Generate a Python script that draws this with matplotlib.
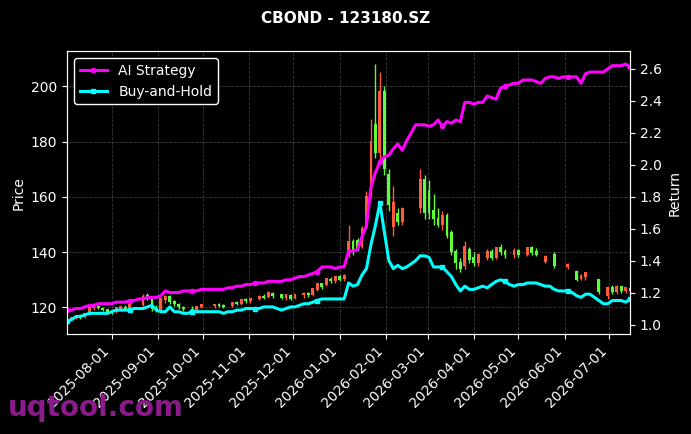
import numpy as np
import pandas as pd
import matplotlib
matplotlib.use("Agg")
import matplotlib.pyplot as plt
import matplotlib.dates as mdates

# Dates (one point every 3 calendar days)
dates = pd.date_range("2025-07-02", periods=127, freq="3D")

# Strategy returns (right axis)
ai_strategy = [
    1.09, 1.09, 1.10, 1.10, 1.11, 1.12, 1.12, 1.13, 1.13, 1.13,
    1.13, 1.14, 1.14, 1.14, 1.15, 1.15, 1.16, 1.16, 1.17, 1.17,
    1.17, 1.18, 1.21, 1.20, 1.20, 1.20, 1.21, 1.21, 1.21, 1.21,
    1.22, 1.22, 1.22, 1.22, 1.22, 1.22, 1.23, 1.23, 1.24, 1.24,
    1.25, 1.25, 1.26, 1.26, 1.26, 1.27, 1.27, 1.27, 1.27, 1.28,
    1.28, 1.29, 1.30, 1.30, 1.31, 1.32, 1.33, 1.36, 1.36, 1.36,
    1.35, 1.36, 1.36, 1.46, 1.46, 1.47, 1.55, 1.62, 1.86, 1.95,
    2.02, 2.05, 2.06, 2.10, 2.13, 2.09, 2.15, 2.20, 2.25, 2.25,
    2.25, 2.24, 2.25, 2.28, 2.24, 2.27, 2.26, 2.28, 2.27, 2.39,
    2.39, 2.38, 2.39, 2.39, 2.43, 2.42, 2.41, 2.48, 2.49, 2.50,
    2.51, 2.51, 2.53, 2.53, 2.53, 2.52, 2.51, 2.54, 2.55, 2.55,
    2.54, 2.55, 2.55, 2.55, 2.55, 2.51, 2.57, 2.58, 2.58, 2.58,
    2.58, 2.60, 2.62, 2.62, 2.62, 2.63, 2.61,
]
buy_and_hold = [
    1.02, 1.03, 1.05, 1.05, 1.06, 1.07, 1.07, 1.07, 1.07, 1.07,
    1.08, 1.09, 1.09, 1.09, 1.09, 1.10, 1.10, 1.10, 1.11, 1.12,
    1.09, 1.08, 1.08, 1.11, 1.08, 1.08, 1.07, 1.07, 1.08, 1.08,
    1.08, 1.08, 1.08, 1.08, 1.08, 1.07, 1.08, 1.08, 1.09, 1.09,
    1.10, 1.10, 1.10, 1.10, 1.11, 1.11, 1.11, 1.10, 1.09, 1.10,
    1.11, 1.11, 1.12, 1.13, 1.13, 1.14, 1.15, 1.16, 1.16, 1.16,
    1.16, 1.16, 1.16, 1.26, 1.24, 1.25, 1.31, 1.35, 1.50, 1.62,
    1.76, 1.58, 1.40, 1.35, 1.37, 1.35, 1.36, 1.38, 1.40, 1.43,
    1.43, 1.42, 1.36, 1.36, 1.36, 1.33, 1.30, 1.25, 1.21, 1.24,
    1.22, 1.22, 1.23, 1.24, 1.23, 1.25, 1.27, 1.28, 1.27, 1.25,
    1.24, 1.25, 1.25, 1.26, 1.26, 1.26, 1.25, 1.24, 1.24, 1.22,
    1.21, 1.21, 1.21, 1.20, 1.18, 1.17, 1.19, 1.19, 1.17, 1.15,
    1.13, 1.13, 1.15, 1.15, 1.15, 1.14, 1.16,
]

# Candles (left axis), None = no trading data
N = None
opens = [
    N, 115.4, 116.2, 116.8, 116.6, 117.8, 119.8, 120.4, 119.6, 119.0,
    118.6, 118.4, 119.6, 120.0, 119.8, N, N, 121.0, 124.2, 122.6,
    119.6, 119.0, 122.8, 124.0, 122.0, 121.0, 120.0, N, 119.0, 118.8,
    120.2, N, N, 120.4, 121.0, 120.6, N, 120.4, 121.6, 121.4,
    122.6, 122.4, N, 123.2, 124.0, 123.8, 125.0, N, 124.6, 123.6,
    124.2, 123.4, N, 124.4, 125.0, 124.6, 126.4, 128.4, 128.0, 130.0,
    129.6, 131.0, 130.2, 139.0, 143.6, 144.0, 142.0, 149.0, 162.0, 186.0,
    176.0, 198.0, 168.0, 149.0, 154.0, 151.0, N, N, N, 156.0,
    166.0, 162.0, 155.0, 152.0, 150.0, 153.0, 147.0, 140.0, 136.0, 135.0,
    141.0, 138.0, 136.0, N, 138.0, 140.0, 138.0, 141.4, 140.0, N,
    139.0, 140.4, N, 139.0, 141.6, 140.0, N, 136.4, N, 139.0,
    N, N, 134.6, N, 133.0, 130.4, 131.0, N, N, 130.0,
    N, 124.0, 127.0, 125.6, 127.4, 125.8, 126.6,
]
highs = [
    N, 116.6, 117.2, 117.6, 118.0, 120.2, 121.0, 120.8, 120.2, 119.6,
    119.4, 120.2, 120.6, 121.0, 121.4, N, N, 125.0, 125.4, 123.2,
    121.0, 123.6, 124.6, 124.4, 122.6, 121.6, 120.6, N, 120.4, 120.6,
    121.4, N, N, 121.4, 121.6, 121.2, N, 122.0, 122.4, 123.0,
    123.4, 123.6, N, 124.4, 125.0, 125.8, 125.6, N, 125.0, 124.8,
    124.8, 125.0, N, 125.6, 125.6, 127.0, 129.0, 129.0, 130.6, 131.2,
    131.4, 131.6, 132.0, 150.0, 144.8, 145.0, 149.4, 162.0, 188.0, 208.0,
    205.0, 200.0, 170.0, 164.0, 156.0, 156.4, N, N, N, 170.0,
    168.0, 166.0, 161.0, 156.0, 155.0, 154.0, 148.0, 141.0, 138.0, 144.0,
    142.0, 140.0, 139.6, N, 141.0, 141.0, 142.0, 143.0, 141.0, N,
    141.4, 141.0, N, 142.0, 142.4, 141.6, N, 139.0, N, 140.0,
    N, N, 136.0, N, 133.4, 132.0, 133.0, N, N, 130.4,
    N, 127.6, 128.0, 128.0, 127.8, 127.4, 127.0,
]
lows = [
    N, 115.0, 115.8, 116.0, 116.2, 117.4, 119.2, 119.4, 118.6, 117.8,
    117.6, 118.0, 119.0, 119.2, 119.4, N, N, 120.6, 122.6, 118.6,
    118.2, 118.6, 121.6, 121.4, 120.6, 119.6, 118.8, N, 118.0, 118.4,
    119.8, N, N, 119.8, 120.0, 119.8, N, 120.0, 120.8, 121.0,
    121.8, 121.8, N, 122.6, 123.0, 123.4, 123.6, N, 123.0, 122.8,
    122.8, 123.0, N, 123.6, 123.8, 124.0, 125.8, 126.8, 127.6, 129.0,
    129.0, 129.6, 129.4, 138.4, 139.0, 140.4, 141.4, 148.4, 160.0, 174.0,
    172.0, 168.0, 155.0, 146.0, 150.0, 150.0, N, N, N, 154.0,
    152.0, 152.0, 150.0, 149.0, 148.0, 145.0, 139.0, 134.0, 133.0, 134.0,
    136.0, 135.0, 135.0, N, 137.0, 137.0, 137.6, 139.0, 138.0, N,
    138.0, 138.4, N, 138.6, 139.0, 138.6, N, 136.0, N, 134.4,
    N, N, 134.0, N, 129.6, 130.0, 130.0, N, N, 125.0,
    N, 123.0, 125.0, 125.0, 125.4, 125.4, 125.2,
]
closes = [
    N, 116.2, 116.8, 116.4, 117.6, 119.8, 120.4, 119.8, 119.0, 118.4,
    118.0, 119.8, 120.2, 119.6, 121.0, N, N, 124.0, 123.0, 119.4,
    118.8, 123.0, 124.0, 122.0, 121.2, 120.0, 119.4, N, 118.6, 120.2,
    121.0, N, N, 121.0, 120.4, 120.0, N, 121.6, 121.2, 122.6,
    122.2, 123.2, N, 124.0, 123.6, 125.2, 124.0, N, 123.4, 124.4,
    123.2, 124.6, N, 125.0, 124.4, 126.6, 128.6, 127.4, 130.2, 129.6,
    131.0, 130.0, 131.4, 143.6, 140.0, 141.0, 148.6, 160.0, 180.0, 176.0,
    198.0, 170.0, 157.0, 158.0, 151.0, 155.6, N, N, N, 166.0,
    154.0, 154.0, 152.0, 150.0, 153.0, 146.0, 140.0, 136.0, 134.0, 142.0,
    137.0, 136.0, 139.0, N, 140.0, 138.0, 141.4, 140.0, 139.0, N,
    140.6, 139.0, N, 141.6, 139.6, 139.0, N, 138.4, N, 135.0,
    N, N, 135.6, N, 130.0, 131.6, 132.6, N, N, 125.6,
    N, 127.0, 125.6, 127.4, 126.0, 127.0, 125.8,
]

plt.style.use("dark_background")
fig = plt.figure(figsize=(6.91, 4.34), dpi=100)
ax = fig.add_axes([0.097, 0.230, 0.815, 0.652])

# red = up, green = down (China convention)
up_color = "#ff5a3c"
down_color = "#5dff3a"

x = mdates.date2num(dates)
o = np.array(opens, dtype=float)
h = np.array(highs, dtype=float)
l = np.array(lows, dtype=float)
c = np.array(closes, dtype=float)
ok = ~np.isnan(o)
colors = np.where(c >= o, up_color, down_color)

ax.vlines(x[ok], l[ok], h[ok], colors=colors[ok], linewidth=1.0)
ax.bar(x[ok], np.abs(c[ok] - o[ok]) + 0.3, bottom=np.minimum(o[ok], c[ok]),
       width=1.9, color=colors[ok], linewidth=0)

ax.set_ylabel("Price", fontsize=10)
ax.grid(True, linestyle="--", color="gray", alpha=0.45, linewidth=0.6)
ax.xaxis.set_major_locator(mdates.MonthLocator())
ax.xaxis.set_major_formatter(mdates.DateFormatter("%Y-%m-%d"))
plt.setp(ax.get_xticklabels(), rotation=45, ha="right")
ax.set_xlim(x[0], x[-1])

ax2 = ax.twinx()
ax2.plot(x, ai_strategy, color="#ff00ff", linewidth=2.2, marker="o",
         markersize=3, markevery=14, label="AI Strategy")
ax2.plot(x, buy_and_hold, color="#00ffff", linewidth=2.2, marker="s",
         markersize=3, markevery=14, label="Buy-and-Hold")
ax2.set_ylabel("Return", fontsize=10)
ax2.set_xlim(x[0], x[-1])

for a in (ax, ax2):
    for s in a.spines.values():
        s.set_color("white")

ax2.legend(loc="upper left", facecolor="black", edgecolor="white",
           framealpha=1, fontsize=10)

fig.text(0.5, 0.958, "CBOND - 123180.SZ", ha="center", va="center",
         fontsize=11, fontweight="bold", color="white")
fig.text(0.012, 0.06, "uqtool.com", ha="left", va="center",
         fontsize=20, fontweight="bold", color="#8b1a8b")

fig.savefig("out.png", dpi=100, facecolor="black")
